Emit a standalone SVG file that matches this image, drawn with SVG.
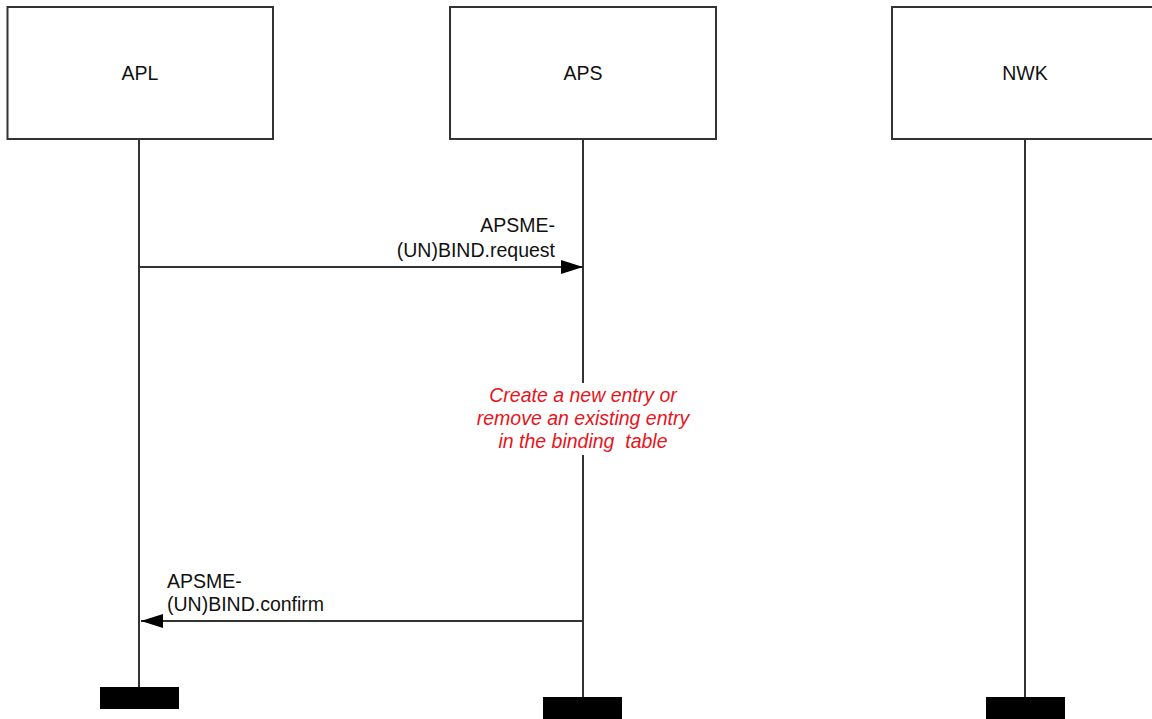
<svg xmlns="http://www.w3.org/2000/svg" width="1152" height="719" viewBox="0 0 1152 719">
<defs>
<style>
.box{fill:#fff;stroke:#333;stroke-width:2}
.life{stroke:#333;stroke-width:2;fill:none}
.msg{stroke:#333;stroke-width:2;fill:none}
.lbl{font-family:"Liberation Sans",Arial,sans-serif;font-size:19.5px;fill:#111}
.note{font-family:"Liberation Sans",Arial,sans-serif;font-size:19.5px;font-style:italic;fill:#e8141b;white-space:pre}
.bar{fill:#000}
</style>
<marker id="ah" viewBox="0 0 22 14" refX="22" refY="7" markerWidth="22" markerHeight="14" markerUnits="userSpaceOnUse" orient="auto">
<path d="M0,0 L22,7 L0,14 Z" fill="#000"/>
</marker>
</defs>
<rect width="1152" height="719" fill="#fff"/>
<g id="lifelines">
<line class="life" x1="139" y1="139" x2="139" y2="687"/>
<line class="life" x1="583" y1="139" x2="583" y2="383"/>
<line class="life" x1="583" y1="455" x2="583" y2="697"/>
<line class="life" x1="1025" y1="139" x2="1025" y2="697"/>
</g>
<g id="APL">
<rect class="box" x="7.5" y="7" width="265.5" height="132"/>
<text class="lbl" x="140" y="80" text-anchor="middle">APL</text>
</g>
<g id="APS">
<rect class="box" x="450" y="7" width="266" height="132"/>
<text class="lbl" x="583" y="80" text-anchor="middle">APS</text>
</g>
<g id="NWK">
<rect class="box" x="892" y="7" width="266" height="132"/>
<text class="lbl" x="1025" y="80" text-anchor="middle">NWK</text>
</g>
<g id="end-APL"><rect class="bar" x="100" y="687" width="79" height="22"/></g>
<g id="end-APS"><rect class="bar" x="543" y="697" width="79" height="22"/></g>
<g id="end-NWK"><rect class="bar" x="986" y="697" width="79" height="22"/></g>
<g id="connectors">
<line class="msg" x1="139" y1="267" x2="583" y2="267" marker-end="url(#ah)"/>
<text class="lbl" x="555" y="232" text-anchor="end">APSME-</text>
<text class="lbl" x="555" y="257" text-anchor="end">(UN)BIND.request</text>
<line class="msg" x1="583" y1="621" x2="141" y2="621" marker-end="url(#ah)"/>
<text class="lbl" x="167" y="588">APSME-</text>
<text class="lbl" x="167" y="611">(UN)BIND.confirm</text>
</g>
<g id="note">
<text class="note" x="583" y="402" text-anchor="middle">Create a new entry or</text>
<text class="note" x="583" y="425" text-anchor="middle">remove an existing entry</text>
<text class="note" x="583" y="448" text-anchor="middle">in the binding  table</text>
</g>
</svg>
